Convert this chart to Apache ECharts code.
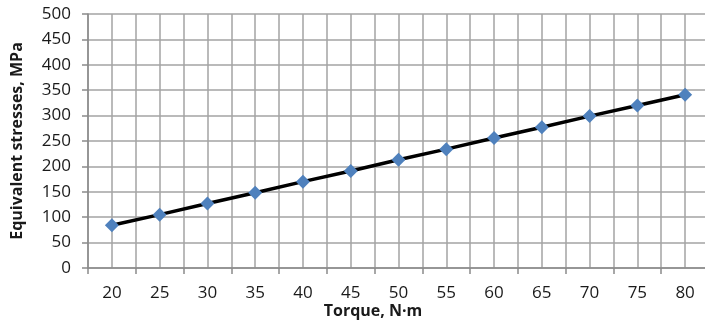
<!DOCTYPE html>
<html>
<head>
<meta charset="utf-8">
<script src="https://cdn.jsdelivr.net/npm/echarts@6/dist/echarts.min.js"></script>
<style>
html,body{margin:0;padding:0;background:#fff;}
#chart{width:705px;height:321px;}
</style>
</head>
<body>
<div id="chart"></div>
<script>
const torque = ['20','25','30','35','40','45','50','55','60','65','70','75','80'];
const stresses = [84, 105, 127, 148, 170, 191, 213, 234, 256, 277, 299, 320, 341];
const xTitle = 'Torque, N·m';
const yTitle = 'Equivalent stresses, MPa';

const gridColor = '#a3a3a3';
const chart = echarts.init(document.getElementById('chart'), null, {renderer:'canvas'});
chart.setOption({
  animation: false,
  backgroundColor: '#fff',
  grid: {left: 88, right: -4, top: 14, bottom: 53, containLabel: false, outerBoundsMode: 'none'},
  xAxis: [
    {
      type: 'category',
      data: torque,
      boundaryGap: true,
      name: xTitle,
      nameLocation: 'middle',
      nameGap: 35,
      nameMoveOverlap: false,
      nameTextStyle: {fontFamily: 'Open Sans', fontWeight: 'bold', fontSize: 16, color: '#1a1a1a', padding: [0, 51, 0, 0]},
      axisLine: {show: true, lineStyle: {color: '#8a8a8a', width: 1.5}},
      axisTick: {show: true, alignWithLabel: false, length: 6, lineStyle: {color: '#8a8a8a', width: 1.5}},
      axisLabel: {fontFamily: 'Open Sans', fontSize: 17, color: '#1a1a1a', margin: 17},
      splitLine: {show: false}
    },
    {
      type: 'value',
      min: 17.5, max: 82.5, interval: 2.5,
      position: 'bottom',
      axisLine: {show: false}, axisTick: {show: false}, axisLabel: {show: false},
      splitLine: {show: true, lineStyle: {color: gridColor, width: 1.5}}
    }
  ],
  yAxis: {
    type: 'value',
    min: 0, max: 500, interval: 50,
    name: yTitle,
    nameLocation: 'middle',
    nameGap: 63,
    nameMoveOverlap: false,
    nameTextStyle: {fontFamily: 'Open Sans', fontWeight: 'bold', fontSize: 16, color: '#1a1a1a'},
    axisLine: {show: true, lineStyle: {color: '#8a8a8a', width: 1.5}},
    axisTick: {show: true, length: 6, lineStyle: {color: '#8a8a8a', width: 1.5}},
    axisLabel: {fontFamily: 'Open Sans', fontSize: 17, color: '#1a1a1a', margin: 17},
    splitLine: {show: true, lineStyle: {color: gridColor, width: 1.5}}
  },
  series: [{
    type: 'line',
    xAxisIndex: 0,
    data: stresses,
    symbol: 'diamond',
    symbolSize: 14,
    itemStyle: {color: '#4f81bd'},
    lineStyle: {color: '#000', width: 3.5},
    z: 5
  }]
});
</script>
</body>
</html>
